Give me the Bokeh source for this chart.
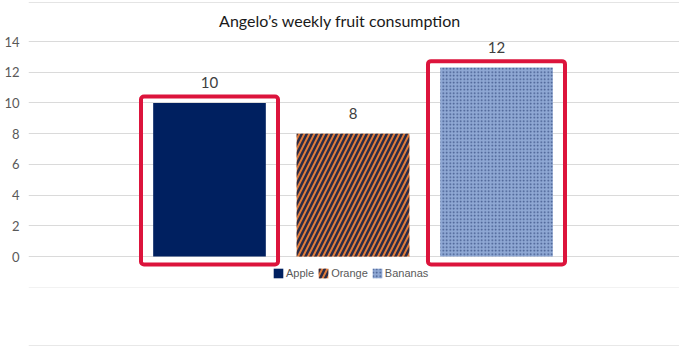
from bokeh.plotting import figure
from bokeh.models import ColumnDataSource, Range1d, FixedTicker, Legend, LegendItem, Label, Span
from bokeh.core.properties import value
from bokeh.embed import file_html
from bokeh.resources import INLINE

# ---- data ----
fruits = ["Apple", "Orange", "Bananas"]
counts = [10, 8, 12.3]
count_labels = ["10", "8", "12"]
highlighted = [True, False, True]
fill_colors = ["#002060", "#E07B39", "#8FA8D4"]
hatch_patterns = [" ", "/", "."]
hatch_colors = ["#002060", "#2B2B45", "#3E5588"]
hatch_scales = [8, 10, 3.5]
hatch_weights = [1, 2.5, 1]
y_ticks = [0, 2, 4, 6, 8, 10, 12, 14]
title_text = "Angelo\u2019s weekly fruit consumption"

W, H = 679, 346
PPU = (256 - 41) / 14.0          # pixels per y unit
y_end = 256 / PPU
y_start = -(H - 256) / PPU
XPX = 143.5                      # pixels per category step
x_start = 1 + (28 - 209) / XPX
x_end = 1 + (W - 209) / XPX

xs = [i + 1 for i in range(len(fruits))]
src = ColumnDataSource(dict(
    x=xs, top=counts, fruit=fruits, color=fill_colors,
    hatch=hatch_patterns, hcolor=hatch_colors,
    hscale=hatch_scales, hweight=hatch_weights,
    ly=[c + 20 / PPU for c in counts], lab=count_labels,
))

p = figure(width=W, height=H, output_backend="svg", toolbar_location=None,
           x_range=Range1d(x_start, x_end), y_range=Range1d(y_start, y_end),
           min_border_left=28, min_border_right=0, min_border_top=0,
           min_border_bottom=0, title=None)
p.outline_line_color = None
p.background_fill_color = "white"
p.border_fill_color = "white"

p.xaxis.visible = False
p.xgrid.visible = False
p.yaxis.ticker = FixedTicker(ticks=y_ticks)
p.yaxis.axis_line_color = None
p.yaxis.major_tick_line_color = None
p.yaxis.minor_tick_line_color = None
p.yaxis.major_label_standoff = 3
p.yaxis.major_label_text_font = "Lato"
p.yaxis.major_label_text_font_size = "13px"
p.yaxis.major_label_text_color = "#595959"
p.ygrid.ticker = FixedTicker(ticks=y_ticks)
p.ygrid.grid_line_color = "#DADADA"
p.ygrid.grid_line_width = 1

# faint container borders
for px, col in [(2, "#E4E4E4"), (287, "#F2F2F2"), (345, "#E8E8E8")]:
    p.add_layout(Span(location=y_end - px / PPU, dimension="width",
                      line_color=col, line_width=1))

bars = p.vbar(x="x", top="top", bottom=0, width=0.785, source=src,
              fill_color="color", line_color=None,
              hatch_pattern="hatch", hatch_color="hcolor",
              hatch_scale="hscale", hatch_weight="hweight")

# highlight boxes
hx = [x for x, h in zip(xs, highlighted) if h]
htop = [c + 0.42 for c, h in zip(counts, highlighted) if h]
p.vbar(x=hx, top=htop, bottom=-0.52, width=0.955, fill_color=None,
       line_color="#DC143C", line_width=4, border_radius=3)

# value labels
p.text(x="x", y="ly", text="lab", source=src, text_align="center",
       text_baseline="alphabetic", text_font=value("Lato"),
       text_font_size="15px", text_color="#404040")

# title
cx = x_start + (W / 2 - 28) / XPX
p.add_layout(Label(x=cx, y=y_end - 20 / PPU, text=title_text,
                   text_align="center", text_baseline="alphabetic",
                   text_font="Lato", text_font_size="16px",
                   text_color="#1A1A1A"))

legend = Legend(items=[LegendItem(label=value(f), renderers=[bars], index=i)
                       for i, f in enumerate(fruits)],
                orientation="horizontal", location=(244, 67),
                glyph_width=12, glyph_height=12, label_height=12,
                label_standoff=2, spacing=3, padding=0, margin=0,
                label_text_font="Liberation Sans", label_text_font_size="11px",
                label_text_color="#595959", border_line_color=None,
                background_fill_alpha=0)
p.add_layout(legend)

open("out.html", "w").write(file_html(p, INLINE))
